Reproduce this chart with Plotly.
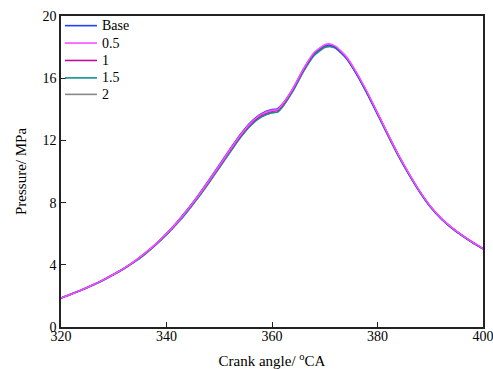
import plotly.graph_objects as go

crank = [320, 322, 324, 326, 328, 330, 332, 334, 336, 338, 340, 342, 344, 346, 348, 350,
         352, 354, 356, 358, 360, 361, 362, 364, 366, 368, 370, 371, 372, 374, 376, 378,
         380, 382, 384, 386, 388, 390, 392, 394, 396, 398, 400]
base = [1.86, 2.12, 2.40, 2.70, 3.03, 3.39, 3.79, 4.24, 4.76, 5.35, 6.01, 6.75, 7.57, 8.46, 9.42, 10.42,
        11.42, 12.38, 13.18, 13.72, 13.98, 14.02, 14.35, 15.35, 16.60, 17.60, 18.10, 18.15, 18.00, 17.35, 16.30, 15.05,
        13.70, 12.33, 11.00, 9.80, 8.70, 7.75, 7.00, 6.40, 5.90, 5.45, 5.04]
s05 = [1.86, 2.12, 2.40, 2.70, 3.03, 3.39, 3.79, 4.24, 4.76, 5.35, 6.00, 6.73, 7.54, 8.42, 9.37, 10.37,
       11.37, 12.33, 13.13, 13.67, 13.93, 13.97, 14.32, 15.35, 16.62, 17.65, 18.15, 18.20, 18.06, 17.42, 16.38, 15.13,
       13.77, 12.39, 11.05, 9.85, 8.74, 7.78, 7.02, 6.42, 5.91, 5.46, 5.05]
s1 = [1.86, 2.12, 2.40, 2.70, 3.03, 3.39, 3.79, 4.24, 4.75, 5.33, 5.98, 6.71, 7.52, 8.40, 9.34, 10.33,
      11.32, 12.28, 13.08, 13.62, 13.88, 13.92, 14.27, 15.30, 16.57, 17.60, 18.10, 18.15, 18.02, 17.38, 16.34, 15.09,
      13.74, 12.36, 11.02, 9.82, 8.72, 7.76, 7.01, 6.41, 5.90, 5.45, 5.04]
s15 = [1.86, 2.12, 2.39, 2.69, 3.01, 3.37, 3.76, 4.20, 4.71, 5.29, 5.93, 6.65, 7.45, 8.32, 9.26, 10.24,
       11.22, 12.18, 12.98, 13.52, 13.78, 13.82, 14.18, 15.22, 16.48, 17.50, 18.00, 18.06, 17.95, 17.32, 16.28, 15.03,
       13.68, 12.31, 10.98, 9.78, 8.68, 7.73, 6.98, 6.38, 5.88, 5.43, 5.02]
s2 = [1.86, 2.12, 2.39, 2.69, 3.01, 3.37, 3.76, 4.20, 4.71, 5.29, 5.93, 6.65, 7.45, 8.32, 9.26, 10.24,
      11.22, 12.18, 12.98, 13.52, 13.78, 13.82, 14.15, 15.18, 16.44, 17.46, 17.97, 18.03, 17.94, 17.33, 16.32, 15.09,
      13.75, 12.37, 11.04, 9.83, 8.72, 7.75, 6.99, 6.39, 5.89, 5.44, 5.02]

names = ["Base", "0.5", "1", "1.5", "2"]
colors = ["#1f3fff", "#ff4dff", "#c0109a", "#119090", "#888888"]
series = [base, s05, s1, s15, s2]

family = "Liberation Serif, Times New Roman, serif"

fig = go.Figure()
draw_order = [4, 3, 2, 0, 1]
for i in draw_order:
    fig.add_trace(go.Scatter(x=crank, y=series[i], mode="lines", name=names[i],
                             line=dict(color=colors[i], width=1.6, shape="spline", smoothing=0.6),
                             showlegend=False))

# legend drawn as line samples + labels (in plot-area fractions)
leg_y = [0.969, 0.913, 0.857, 0.801, 0.748]
for n, c, ly in zip(names, colors, leg_y):
    fig.add_shape(type="line", xref="paper", yref="paper",
                  x0=0.0095, x1=0.0853, y0=ly, y1=ly,
                  line=dict(color=c, width=1.6))
    fig.add_annotation(text=n, xref="paper", yref="paper", x=0.0924, y=ly,
                       xanchor="left", yanchor="middle", showarrow=False,
                       font=dict(family=family, size=14, color="black"))

font = dict(family=family, size=14, color="black")
fig.update_layout(
    width=493, height=369,
    margin=dict(l=61, r=10, t=16, b=42),
    paper_bgcolor="white", plot_bgcolor="white",
    font=font,
    showlegend=False,
)
fig.update_xaxes(range=[320, 400], tickvals=[320, 340, 360, 380, 400],
                 ticks="inside", ticklen=5, tickcolor="#222", tickwidth=1.2,
                 showline=True, linecolor="#222", linewidth=1.5, mirror=True,
                 showgrid=False, zeroline=False, automargin=False,
                 tickfont=dict(family=family, size=14), ticklabelstandoff=-5,
                 ticklabeloverflow="allow",
                 title=dict(text="Crank angle/ <sup>o</sup>CA", standoff=15,
                            font=dict(family=family, size=15)))
fig.update_yaxes(range=[0, 20], tickvals=[0, 4, 8, 12, 16, 20],
                 ticks="inside", ticklen=5, tickcolor="#222", tickwidth=1.2,
                 showline=True, linecolor="#222", linewidth=1.5, mirror=True,
                 showgrid=False, zeroline=False, automargin=False,
                 tickfont=dict(family=family, size=14), ticklabeloverflow="allow",
                 title=dict(text="Pressure/ MPa", standoff=12,
                            font=dict(family=family, size=15)))
fig.write_html("out.html")
